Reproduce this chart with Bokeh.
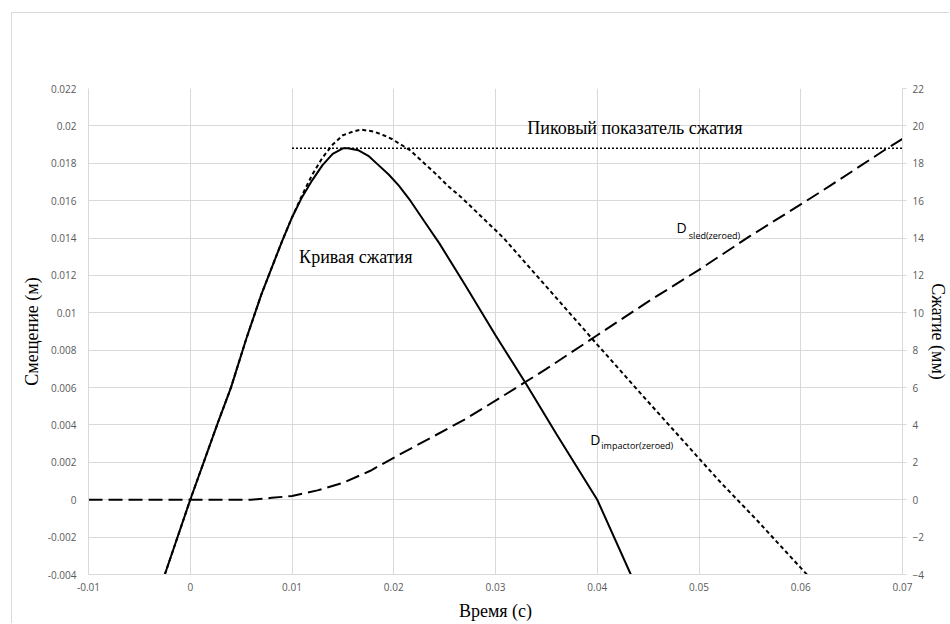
from bokeh.plotting import figure
from bokeh.models import Range1d, LinearAxis, Label, FixedTicker, CustomJSTickFormatter
from bokeh.embed import file_html
from bokeh.resources import INLINE

# ---- data ----
t_comp = [-0.0025, 0.0, 0.0027, 0.004, 0.0055, 0.007, 0.009, 0.010, 0.011, 0.012, 0.013, 0.014,
          0.015, 0.0155, 0.0165, 0.0175, 0.0185, 0.0195, 0.0205, 0.0215, 0.0225, 0.0235, 0.0245,
          0.027, 0.03, 0.033, 0.036, 0.04, 0.0433]
comp = [-0.004, 0.0, 0.0041, 0.006, 0.0086, 0.011, 0.0138, 0.0151, 0.0162, 0.0171, 0.0179, 0.0185,
        0.0188, 0.0188, 0.0187, 0.0184, 0.0179, 0.0174, 0.0168, 0.0161, 0.0153, 0.0145, 0.0137,
        0.0115, 0.0088, 0.0062, 0.0035, 0.0, -0.004]

t_imp = [-0.0025, 0.0, 0.0027, 0.004, 0.0055, 0.007, 0.009, 0.010, 0.011, 0.012, 0.013, 0.014, 0.015,
         0.016, 0.0168, 0.018, 0.019, 0.0198, 0.0207, 0.0216, 0.0228, 0.024, 0.0253, 0.0266, 0.0287,
         0.0308, 0.035, 0.04, 0.0449, 0.052, 0.0557, 0.0606]
imp = [-0.004, 0.0, 0.0041, 0.006, 0.0086, 0.011, 0.0138, 0.0151, 0.0163, 0.0174, 0.0183, 0.019,
       0.0195, 0.0197, 0.0198, 0.0197, 0.0195, 0.0193, 0.019, 0.0187, 0.0181, 0.0175, 0.0168, 0.0162,
       0.0151, 0.014, 0.0114, 0.0083, 0.0053, 0.001, -0.0011, -0.004]

t_sled = [-0.01, 0.006, 0.008, 0.01, 0.0125, 0.015, 0.0177, 0.0205, 0.0236, 0.027, 0.03, 0.035,
          0.04, 0.045, 0.05, 0.055, 0.06, 0.0629, 0.0685, 0.07]
sled = [0.0, 0.0, 0.0001, 0.0002, 0.0005, 0.0009, 0.00155, 0.0024, 0.0033, 0.0043, 0.0053, 0.007,
        0.0088, 0.0106, 0.0123, 0.0141, 0.0158, 0.0168, 0.0188, 0.0193]

peak_t = [0.01, 0.07]
peak_value = [0.0188, 0.0188]

x_ticks = [-0.01, 0.0, 0.01, 0.02, 0.03, 0.04, 0.05, 0.06, 0.07]
y_ticks = [-0.004, -0.002, 0.0, 0.002, 0.004, 0.006, 0.008, 0.01, 0.012, 0.014, 0.016, 0.018, 0.02, 0.022]
y2_ticks = [-4, -2, 0, 2, 4, 6, 8, 10, 12, 14, 16, 18, 20, 22]

SERIF = "Liberation Serif"
SANS = "Open Sans"
GRID = "#d9d9d9"
TICKC = "#595959"

p = figure(width=938, height=611, x_range=Range1d(-0.01, 0.07), y_range=Range1d(-0.004, 0.022),
           output_backend="svg", toolbar_location=None,
           min_border_left=76, min_border_right=48, min_border_top=75, min_border_bottom=50)
p.styles = {"margin-left": "11px", "margin-top": "12px",
            "border-left": "1px solid #d9d9d9", "border-top": "1px solid #d9d9d9"}
p.outline_line_color = None
p.background_fill_color = "white"
p.border_fill_color = "white"

fmt = CustomJSTickFormatter(code="return String(parseFloat(tick.toFixed(4)));")

# axes
xa = p.xaxis[0]
xa.ticker = FixedTicker(ticks=x_ticks)
xa.formatter = fmt
ya = p.yaxis[0]
ya.ticker = FixedTicker(ticks=y_ticks)
ya.formatter = fmt

for ax in (xa, ya):
    ax.axis_line_color = GRID
    ax.major_tick_out = 0
    ax.major_tick_in = 0
    ax.minor_tick_out = 0
    ax.minor_tick_in = 0
    ax.major_label_text_font = SANS
    ax.major_label_text_font_size = "10px"
    ax.major_label_text_color = TICKC
    ax.axis_label_text_font = SERIF
    ax.axis_label_text_font_size = "18px"
    ax.axis_label_text_font_style = "normal"
    ax.axis_label_text_color = "black"

xa.axis_label = "Время (с)"
xa.major_label_standoff = 8
xa.axis_label_standoff = 7
ya.axis_label = "Смещение (м)"
ya.major_label_standoff = 12
ya.axis_label_standoff = 3

p.extra_y_ranges = {"mm": Range1d(-4, 22)}
ra = LinearAxis(y_range_name="mm", ticker=FixedTicker(ticks=y2_ticks), axis_label="Сжатие (мм)")
ra.axis_line_color = GRID
ra.major_tick_out = 4
ra.major_tick_in = 0
ra.major_tick_line_color = GRID
ra.minor_tick_out = 0
ra.minor_tick_in = 0
ra.major_label_standoff = 6
ra.major_label_text_font = SANS
ra.major_label_text_font_size = "10px"
ra.major_label_text_color = TICKC
ra.axis_label_text_font = SERIF
ra.axis_label_text_font_size = "18px"
ra.axis_label_text_font_style = "normal"
ra.axis_label_text_color = "black"
ra.axis_label_standoff = 1
p.add_layout(ra, "right")

p.xgrid.ticker = FixedTicker(ticks=x_ticks)
p.ygrid.ticker = FixedTicker(ticks=y_ticks)
p.xgrid.grid_line_color = GRID
p.ygrid.grid_line_color = GRID

# series
p.line(t_sled, sled, line_color="black", line_width=2, line_dash="14 6")
p.line(t_imp, imp, line_color="black", line_width=2, line_dash="4 3")
p.line(t_comp, comp, line_color="black", line_width=2)
p.line(peak_t, peak_value, line_color="black", line_width=1.6, line_dash="2 2")

# annotations
def add_label(x, y, text, font, size, align="left"):
    p.add_layout(Label(x=x, y=y, text=text, text_font=font, text_font_size=size,
                       text_align=align, text_baseline="middle", text_color="black"))

add_label(0.0437, 0.0199, "Пиковый показатель сжатия", SERIF, "18px", "center")
add_label(0.0107, 0.0130, "Кривая сжатия", SERIF, "18px")
add_label(0.0478, 0.01455, "D", SANS, "14px")
add_label(0.0490, 0.01415, "sled(zeroed)", SANS, "9px")
add_label(0.0393, 0.0032, "D", SANS, "14px")
add_label(0.0404, 0.0029, "impactor(zeroed)", SANS, "9px")

open("out.html", "w").write(file_html(p, INLINE))
